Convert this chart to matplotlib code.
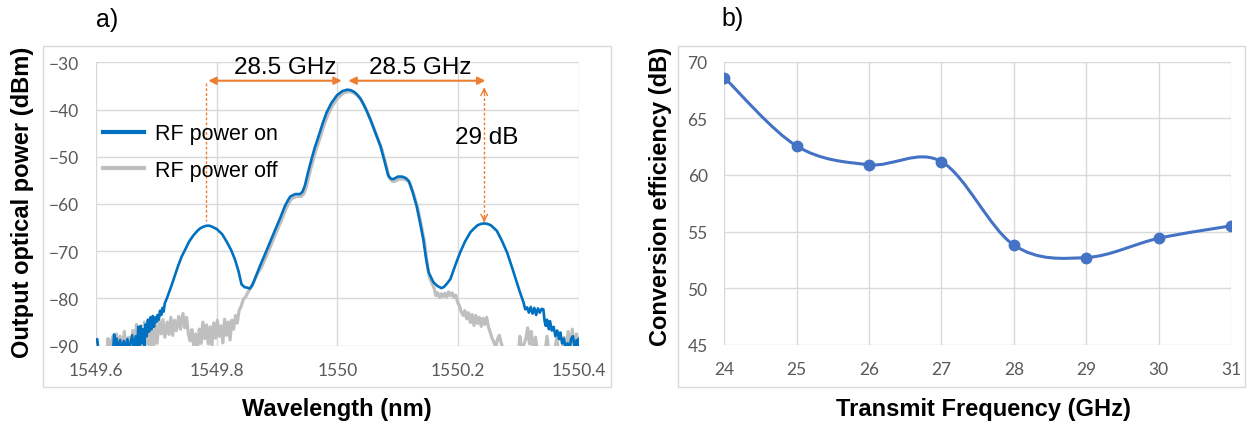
import matplotlib.pyplot as plt
from matplotlib.path import Path
from matplotlib.patches import PathPatch, Rectangle

# ---- panel a: optical spectrum (wavelength nm, power dBm) ----
rf_on = [
    (1549.600, -89.0), (1549.602, -88.6), (1549.604, -91.0), (1549.628, -92.0),
    (1549.630, -87.6), (1549.632, -90.5), (1549.634, -88.5), (1549.636, -91.0),
    (1549.640, -88.8), (1549.642, -91.0), (1549.646, -89.0), (1549.648, -91.0),
    (1549.652, -88.6), (1549.654, -91.0), (1549.660, -87.8), (1549.662, -90.5),
    (1549.666, -88.0), (1549.668, -91.0), (1549.670, -86.0), (1549.672, -90.0),
    (1549.674, -85.8), (1549.676, -89.5), (1549.678, -86.5), (1549.680, -90.0),
    (1549.682, -85.5), (1549.684, -88.0), (1549.686, -84.5), (1549.688, -87.0),
    (1549.690, -84.0), (1549.692, -86.5), (1549.694, -83.7), (1549.696, -86.0),
    (1549.698, -84.0), (1549.700, -85.0), (1549.702, -83.5), (1549.704, -84.5),
    (1549.706, -82.6), (1549.708, -83.5), (1549.710, -82.0), (1549.712, -82.8),
    (1549.714, -81.0), (1549.717, -80.1), (1549.721, -78.7), (1549.725, -77.3),
    (1549.730, -75.4), (1549.736, -73.1), (1549.742, -71.1), (1549.748, -69.6),
    (1549.754, -68.0), (1549.761, -66.7), (1549.767, -65.8), (1549.772, -65.2),
    (1549.778, -64.8), (1549.783, -64.6), (1549.788, -64.6), (1549.792, -64.8),
    (1549.800, -65.3), (1549.809, -66.4), (1549.817, -68.1), (1549.824, -69.8),
    (1549.830, -71.7), (1549.836, -74.2), (1549.841, -77.0), (1549.846, -77.6),
    (1549.850, -77.7), (1549.855, -77.9), (1549.859, -77.2), (1549.863, -75.9),
    (1549.872, -73.0), (1549.883, -69.7), (1549.894, -66.3), (1549.905, -63.0),
    (1549.913, -60.4), (1549.918, -59.2), (1549.922, -58.4), (1549.930, -57.9),
    (1549.938, -57.9), (1549.942, -57.4), (1549.946, -56.1), (1549.951, -53.4),
    (1549.957, -50.5), (1549.962, -48.2), (1549.968, -45.9), (1549.975, -43.1),
    (1549.982, -40.6), (1549.990, -38.6), (1549.999, -37.0), (1550.008, -36.1),
    (1550.016, -35.8), (1550.022, -35.9), (1550.028, -36.3), (1550.033, -36.9),
    (1550.038, -37.7), (1550.043, -38.9), (1550.048, -40.2), (1550.054, -42.0),
    (1550.062, -44.7), (1550.071, -47.7), (1550.078, -51.0), (1550.084, -54.0),
    (1550.089, -54.7), (1550.093, -54.7), (1550.100, -54.2), (1550.107, -54.2),
    (1550.113, -54.5), (1550.118, -55.1), (1550.124, -57.3), (1550.131, -60.4),
    (1550.136, -63.5), (1550.142, -67.4), (1550.147, -71.8), (1550.151, -74.5),
    (1550.159, -76.6), (1550.166, -77.4), (1550.172, -77.8), (1550.176, -77.6),
    (1550.181, -76.9), (1550.187, -75.9), (1550.195, -73.0), (1550.203, -70.3),
    (1550.211, -68.0), (1550.220, -66.0), (1550.226, -65.2), (1550.232, -64.5),
    (1550.238, -64.2), (1550.243, -64.1), (1550.248, -64.2), (1550.254, -64.5),
    (1550.264, -65.7), (1550.272, -67.7), (1550.281, -70.3), (1550.289, -73.4),
    (1550.297, -76.6), (1550.302, -78.6), (1550.308, -80.8),
    (1550.311, -82.3), (1550.314, -81.9), (1550.317, -83.0), (1550.320, -81.8),
    (1550.323, -83.2), (1550.326, -82.0), (1550.329, -83.5), (1550.332, -82.1),
    (1550.335, -83.0), (1550.338, -82.2), (1550.341, -82.3), (1550.343, -84.8),
    (1550.345, -85.8), (1550.347, -84.5), (1550.350, -86.5), (1550.352, -84.8),
    (1550.355, -86.8), (1550.358, -86.0), (1550.361, -88.0), (1550.364, -86.8),
    (1550.367, -88.6), (1550.369, -87.2), (1550.372, -89.5), (1550.375, -88.5),
    (1550.378, -91.0), (1550.381, -89.5), (1550.384, -91.0), (1550.387, -88.5),
    (1550.390, -88.0), (1550.393, -90.5), (1550.396, -88.8), (1550.398, -90.5),
    (1550.400, -88.5),
]

rf_off = [
    (1549.600, -92.0), (1549.618, -92.0), (1549.620, -88.5), (1549.622, -91.0),
    (1549.628, -88.0), (1549.630, -91.0), (1549.634, -87.5), (1549.637, -91.0),
    (1549.640, -88.0), (1549.643, -91.0), (1549.647, -87.0), (1549.650, -91.0),
    (1549.654, -88.2), (1549.657, -91.0), (1549.661, -86.8), (1549.664, -90.5),
    (1549.667, -85.5), (1549.670, -89.5), (1549.673, -86.0), (1549.676, -91.0),
    (1549.680, -85.0), (1549.683, -89.6), (1549.686, -86.4), (1549.689, -91.0),
    (1549.692, -86.8), (1549.695, -91.0), (1549.698, -85.5), (1549.701, -89.5),
    (1549.705, -84.8), (1549.708, -87.5), (1549.711, -84.5), (1549.714, -88.2),
    (1549.718, -85.0), (1549.721, -87.6), (1549.724, -84.0), (1549.727, -87.8),
    (1549.730, -84.6), (1549.733, -86.8), (1549.737, -83.8), (1549.740, -86.5),
    (1549.744, -83.2), (1549.747, -86.2), (1549.750, -84.0), (1549.753, -87.5),
    (1549.756, -89.0), (1549.759, -86.6), (1549.762, -90.2), (1549.765, -87.5),
    (1549.768, -91.0), (1549.771, -86.5), (1549.774, -89.5), (1549.777, -85.0),
    (1549.780, -88.5), (1549.783, -85.6), (1549.786, -89.6), (1549.789, -86.0),
    (1549.792, -90.0), (1549.795, -85.2), (1549.798, -88.4), (1549.801, -84.6),
    (1549.804, -88.0), (1549.807, -85.8), (1549.810, -89.4), (1549.813, -84.4),
    (1549.816, -87.8), (1549.819, -85.0), (1549.822, -88.8), (1549.825, -84.6),
    (1549.828, -86.5), (1549.831, -83.6), (1549.834, -85.2), (1549.837, -82.5),
    (1549.840, -81.8), (1549.844, -80.2), (1549.848, -79.6), (1549.852, -78.6),
    (1549.857, -77.4), (1549.862, -76.3), (1549.868, -74.6), (1549.874, -73.4),
    (1549.885, -70.2), (1549.896, -66.8), (1549.907, -63.5), (1549.915, -60.9),
    (1549.920, -59.7), (1549.924, -58.9), (1549.932, -58.4), (1549.940, -58.4),
    (1549.944, -57.9), (1549.948, -56.6), (1549.953, -53.9), (1549.959, -51.0),
    (1549.964, -48.7), (1549.970, -46.4), (1549.977, -43.6), (1549.984, -41.1),
    (1549.992, -39.1), (1550.001, -37.5), (1550.010, -36.5), (1550.018, -36.2),
    (1550.024, -36.3), (1550.030, -36.7), (1550.035, -37.3), (1550.040, -38.1),
    (1550.045, -39.3), (1550.050, -40.7), (1550.056, -42.5), (1550.064, -45.2),
    (1550.073, -48.2), (1550.080, -51.5), (1550.086, -54.5), (1550.091, -55.2),
    (1550.095, -55.2), (1550.102, -54.7), (1550.109, -54.7), (1550.115, -55.0),
    (1550.120, -55.6), (1550.126, -57.8), (1550.133, -60.9), (1550.138, -64.0),
    (1550.144, -68.0), (1550.150, -74.0), (1550.153, -75.8), (1550.156, -76.6),
    (1550.160, -77.8), (1550.163, -79.4), (1550.166, -78.8), (1550.169, -79.8),
    (1550.172, -79.0), (1550.175, -79.6), (1550.178, -78.9), (1550.181, -79.7),
    (1550.184, -78.6), (1550.187, -79.4), (1550.190, -78.8), (1550.193, -79.8),
    (1550.196, -79.3), (1550.199, -80.8), (1550.202, -81.6), (1550.205, -82.8),
    (1550.208, -83.6), (1550.211, -82.6), (1550.214, -84.3), (1550.217, -83.0),
    (1550.220, -85.1), (1550.223, -83.4), (1550.226, -85.7), (1550.229, -83.6),
    (1550.232, -85.3), (1550.235, -84.0), (1550.238, -85.9), (1550.241, -84.2),
    (1550.244, -85.5), (1550.247, -84.0), (1550.250, -86.0), (1550.253, -87.2),
    (1550.256, -88.4), (1550.259, -89.2), (1550.262, -90.5), (1550.265, -88.6),
    (1550.268, -87.8), (1550.271, -89.4), (1550.274, -90.6), (1550.280, -91.5),
    (1550.300, -91.5), (1550.302, -88.0), (1550.305, -91.0), (1550.312, -88.5),
    (1550.315, -86.2), (1550.318, -89.6), (1550.321, -87.0), (1550.324, -91.0),
    (1550.328, -88.2), (1550.331, -91.0), (1550.344, -91.0), (1550.347, -88.0),
    (1550.350, -91.0), (1550.360, -91.0), (1550.363, -88.5), (1550.366, -91.0),
    (1550.372, -91.0), (1550.375, -88.2), (1550.378, -91.0), (1550.382, -87.0),
    (1550.385, -90.5), (1550.389, -86.5), (1550.392, -90.5), (1550.396, -87.5),
    (1550.399, -91.0),
]

wl_ticks = [1549.6, 1549.8, 1550.0, 1550.2, 1550.4]
wl_labels = ["1549.6", "1549.8", "1550", "1550.2", "1550.4"]
dbm_ticks = [-90, -80, -70, -60, -50, -40, -30]

# ---- panel b: conversion efficiency ----
freq = [24, 25, 26, 27, 28, 29, 30, 31]
conv_eff = [68.6, 62.55, 60.9, 61.17, 53.8, 52.7, 54.4, 55.5]
db_ticks = [45, 50, 55, 60, 65, 70]

ORANGE = "#ED7D31"
GRID = "#D9D9D9"
TICKC = "#595959"
W, H = 1249, 427


def fx(px):
    return px / W


def fy(py):
    return 1 - py / H


def excel_smooth(xs, ys):
    # smoothed line like Excel: cubic bezier through the points
    n = len(xs)
    verts = [(xs[0], ys[0])]
    codes = [Path.MOVETO]
    for i in range(n - 1):
        a = max(i - 1, 0)
        d = min(i + 2, n - 1)
        c1 = (xs[i] + (xs[i + 1] - xs[a]) / 6, ys[i] + (ys[i + 1] - ys[a]) / 6)
        c2 = (xs[i + 1] - (xs[d] - xs[i]) / 6, ys[i + 1] - (ys[d] - ys[i]) / 6)
        verts += [c1, c2, (xs[i + 1], ys[i + 1])]
        codes += [Path.CURVE4] * 3
    return Path(verts, codes)


def style_axes(ax):
    for s in ax.spines.values():
        s.set_visible(False)
    ax.grid(True, color=GRID, lw=1)
    ax.set_axisbelow(True)
    ax.tick_params(length=0, labelsize=12.5, labelcolor=TICKC)
    for lab in ax.get_xticklabels() + ax.get_yticklabels():
        lab.set_family("Lato")
    ax.tick_params(axis="x", pad=12)
    ax.tick_params(axis="y", pad=12)


fig = plt.figure(figsize=(W / 100, H / 100), dpi=100)

# chart-area frames
for x0, x1 in [(43.3, 611), (677.7, 1245)]:
    fig.add_artist(Rectangle((fx(x0), fy(388)), fx(x1) - fx(x0), fy(46.7) - fy(388),
                             transform=fig.transFigure, fill=False, ec=GRID, lw=1))

# ---------- a) ----------
ax1 = fig.add_axes([fx(96), fy(346.7), fx(579) - fx(96), fy(63.3) - fy(346.7)])
off_x = [p[0] for p in rf_off]
off_y = [p[1] for p in rf_off]
on_x = [p[0] for p in rf_on]
on_y = [p[1] for p in rf_on]
l_off, = ax1.plot(off_x, off_y, color="#BFBFBF", lw=2.3, label="RF power off")
l_on, = ax1.plot(on_x, on_y, color="#0070C0", lw=1.9, label="RF power on")
ax1.set_xlim(1549.6, 1550.4)
ax1.set_ylim(-90, -30)
ax1.set_xticks(wl_ticks)
ax1.set_xticklabels(wl_labels)
ax1.set_yticks(dbm_ticks)
style_axes(ax1)

leg = ax1.legend(handles=[l_on, l_off], loc="upper left", bbox_to_anchor=(0.0145, 0.785),
                 frameon=False, handlelength=1.9, handletextpad=0.5,
                 labelspacing=0.72, borderpad=0, borderaxespad=0,
                 prop={"family": "Liberation Sans", "size": 15.5})
for h in leg.legend_handles:
    h.set_linewidth(3)

# spacing arrows
arrow = dict(arrowstyle="<|-|>", color=ORANGE, lw=1.5, shrinkA=0, shrinkB=0, mutation_scale=11)
ax1.annotate("", xy=(1549.786, -33.9), xytext=(1550.007, -33.9), arrowprops=arrow,
             annotation_clip=False)
ax1.annotate("", xy=(1550.018, -33.9), xytext=(1550.245, -33.9), arrowprops=arrow,
             annotation_clip=False)
ax1.text(1549.913, -31.1, "28.5 GHz", ha="center", va="center", fontsize=17.5,
         family="Liberation Sans")
ax1.text(1550.137, -31.1, "28.5 GHz", ha="center", va="center", fontsize=17.5,
         family="Liberation Sans")
ax1.plot([1549.783, 1549.783], [-34.3, -63.6], color=ORANGE, lw=1, ls=(0, (2, 1.5)))
ax1.plot([1550.243, 1550.243], [-35.4, -63.8], color=ORANGE, lw=1, ls=(0, (2, 1.5)))
head = dict(arrowstyle="->", color=ORANGE, lw=1, shrinkA=0, shrinkB=0, mutation_scale=12)
ax1.annotate("", xy=(1550.243, -35.3), xytext=(1550.243, -36.5), arrowprops=head)
ax1.annotate("", xy=(1550.243, -63.9), xytext=(1550.243, -62.7), arrowprops=head)
ax1.text(1550.247, -45.9, "29 dB", ha="center", va="center", fontsize=17.5,
         family="Liberation Sans")

fig.text(fx(107), fy(20), "a)", ha="center", va="center", fontsize=18, family="Liberation Sans")
fig.text(fx(22.5), fy(202), "Output optical power (dBm)", rotation=90, ha="center",
         va="center", fontsize=17, fontweight="bold", family="Liberation Sans")
fig.text(fx(337), fy(410), "Wavelength (nm)", ha="center", va="center", fontsize=17,
         fontweight="bold", family="Liberation Sans")

# ---------- b) ----------
ax2 = fig.add_axes([fx(724.3), fy(345.7), fx(1231) - fx(724.3), fy(62.7) - fy(345.7)])
ax2.add_patch(PathPatch(excel_smooth(freq, conv_eff), fill=False, ec="#4472C4", lw=2.2))
ax2.plot(freq, conv_eff, "o", color="#4472C4", ms=7.5)
ax2.set_xlim(24, 31)
ax2.set_ylim(45, 70)
ax2.set_xticks(freq)
ax2.set_yticks(db_ticks)
style_axes(ax2)

fig.text(fx(733), fy(19), "b)", ha="center", va="center", fontsize=18, family="Liberation Sans")
fig.text(fx(660), fy(196), "Conversion efficiency (dB)", rotation=90, ha="center",
         va="center", fontsize=17, fontweight="bold", family="Liberation Sans")
fig.text(fx(983.5), fy(410), "Transmit Frequency (GHz)", ha="center", va="center",
         fontsize=17, fontweight="bold", family="Liberation Sans")

fig.savefig("out.png", dpi=100)
